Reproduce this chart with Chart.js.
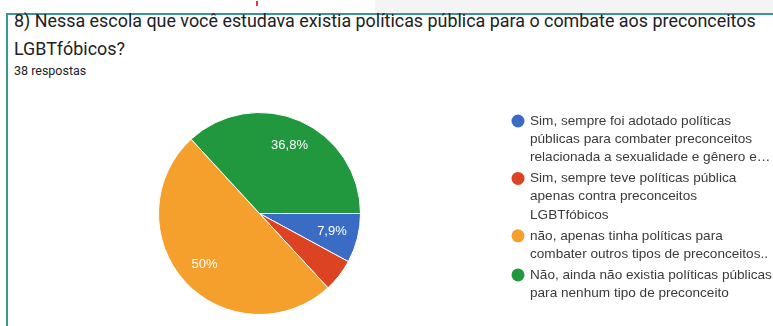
<!DOCTYPE html>
<html>
<head>
<meta charset="utf-8">
<script src="https://cdn.jsdelivr.net/npm/chart.js@4"></script>
<style>
  html, body { margin: 0; padding: 0; background: #fff; }
  #page { position: relative; width: 773px; height: 326px; overflow: hidden; background: #fff; }
  #topgray { position: absolute; left: 375px; top: 0; width: 398px; height: 14px; background: #f4f4f4; }
  #redmark { position: absolute; left: 256px; top: 1px; width: 2px; height: 5px; background: #e53935; }
  #frameTop { position: absolute; left: 7px; top: 13px; width: 766px; height: 2px; background: #3a9690; }
  #frameLeft { position: absolute; left: 6px; top: 13px; width: 2px; height: 313px; background: #3a9690; }
  .q { position: absolute; left: 14px; font-family: Roboto, sans-serif; color: #202124; white-space: nowrap; }
  #q1 { top: 10px; font-size: 17.9px; }
  #q2 { top: 38px; font-size: 17.9px; }
  #resp { top: 63px; font-size: 12.5px; color: #202124; }
  #wrap { position: absolute; left: 0; top: 0; width: 773px; height: 326px; }
</style>
</head>
<body>
<div id="page">
  <div id="topgray"></div>
  <div id="redmark"></div>
  <div id="frameTop"></div>
  <div id="frameLeft"></div>
  <div class="q" id="q1">8) Nessa escola que você estudava existia políticas pública para o combate aos preconceitos</div>
  <div class="q" id="q2">LGBTfóbicos?</div>
  <div class="q" id="resp">38 respostas</div>
  <div id="wrap"><canvas id="pie"></canvas></div>
</div>
<script>
// answer options, each already broken into the lines shown in the legend
const LABELS = [
  ["Sim, sempre foi adotado políticas", "públicas para combater preconceitos", "relacionada a sexualidade e gênero e…"],
  ["Sim, sempre teve políticas pública", "apenas contra preconceitos", "LGBTfóbicos"],
  ["não, apenas tinha políticas para", "combater outros tipos de preconceitos.."],
  ["Não, ainda não existia políticas públicas", "para nenhum tipo de preconceito"]
];
// number of answers (38 total)
const COUNTS = [3, 2, 19, 14];
const COLORS = ["#3a6bc5", "#dc4323", "#f59f2c", "#21983e"];

// percent text inside slices, pt-BR style ("36,8%")
const sliceText = {
  id: "sliceText",
  afterDatasetsDraw(chart) {
    const ctx = chart.ctx;
    const data = chart.data.datasets[0].data;
    const total = data.reduce((a, b) => a + b, 0);
    ctx.save();
    ctx.font = "13px 'Liberation Sans', Arial, sans-serif";
    ctx.fillStyle = "#ffffff";
    ctx.textAlign = "center";
    ctx.textBaseline = "middle";
    chart.getDatasetMeta(0).data.forEach((arc, i) => {
      const pct = data[i] / total * 100;
      if (pct < 6) return;
      const mid = (arc.startAngle + arc.endAngle) / 2;
      const d = arc.outerRadius * 0.74;
      let txt = pct.toFixed(1).replace(".", ",");
      if (txt.endsWith(",0")) txt = txt.slice(0, -2);
      ctx.fillText(txt + "%", arc.x + Math.cos(mid) * d, arc.y + Math.sin(mid) * d);
    });
    ctx.restore();
  }
};

// legend on the right, multi-line entries
const sideLegend = {
  id: "sideLegend",
  afterDraw(chart) {
    const ctx = chart.ctx;
    const lineH = 18.3;
    let y = 121;
    ctx.save();
    ctx.font = "13.6px 'Liberation Sans', Arial, sans-serif";
    ctx.textBaseline = "middle";
    chart.data.labels.forEach((lines, i) => {
      ctx.fillStyle = COLORS[i];
      ctx.beginPath();
      ctx.arc(518, y, 6.5, 0, Math.PI * 2);
      ctx.fill();
      ctx.fillStyle = "#3a3a3a";
      lines.forEach((t, k) => ctx.fillText(t, 530, y + k * lineH));
      y += lines.length * lineH + 2.5;
    });
    ctx.restore();
  }
};

new Chart(document.getElementById("pie"), {
  type: "pie",
  data: {
    labels: LABELS,
    datasets: [{
      data: COUNTS,
      backgroundColor: COLORS,
      borderColor: "#ffffff",
      borderWidth: 1
    }]
  },
  options: {
    responsive: true,
    maintainAspectRatio: false,
    animation: false,
    rotation: 90,
    layout: { padding: { left: 158, top: 112, right: 412, bottom: 11 } },
    plugins: {
      legend: { display: false },
      tooltip: { enabled: false }
    }
  },
  plugins: [sliceText, sideLegend]
});
</script>
</body>
</html>
